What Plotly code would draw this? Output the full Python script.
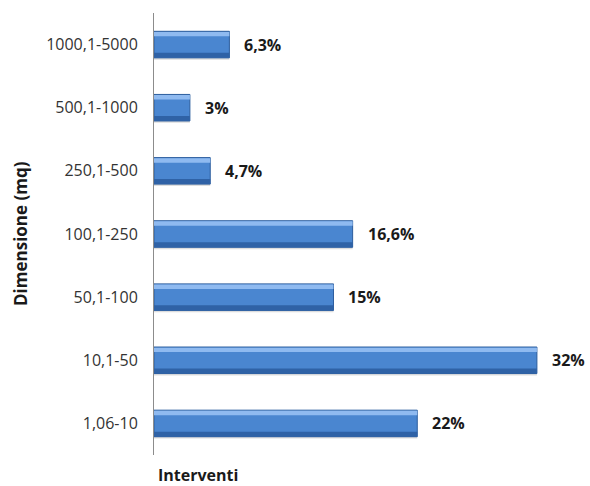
import plotly.graph_objects as go

# Dimension classes (bottom to top) and share of interventions (%)
categories = ["1,06-10", "10,1-50", "50,1-100", "100,1-250", "250,1-500", "500,1-1000", "1000,1-5000"]
values = [22, 32, 15, 16.6, 4.7, 3, 6.3]
labels = [f"{v:g}".replace(".", ",") + "%" for v in values]

fig = go.Figure()

# drop shadow under each bar
fig.add_trace(go.Bar(
    y=categories, x=values, orientation="h",
    width=0.42, offset=-0.24,
    marker=dict(color="rgba(120,120,120,0.25)", line=dict(width=0)),
    hoverinfo="skip", showlegend=False,
))
# main bar body
fig.add_trace(go.Bar(
    y=categories, x=values, orientation="h",
    width=0.42, offset=-0.21,
    marker=dict(color="#4a86d0", line=dict(color="#2d5e9e", width=1)),
    showlegend=False,
))
# lower darker bevel
fig.add_trace(go.Bar(
    y=categories, x=values, orientation="h",
    width=0.08, offset=-0.21,
    marker=dict(color="#2f62a6", line=dict(width=0)),
    hoverinfo="skip", showlegend=False,
))
# upper highlight bevel
fig.add_trace(go.Bar(
    y=categories, x=values, orientation="h",
    width=0.07, offset=0.13,
    marker=dict(color="#8fbaf0", line=dict(width=0)),
    hoverinfo="skip", showlegend=False,
))

# value labels to the right of each bar
for c, v, t in zip(categories, values, labels):
    fig.add_annotation(
        x=v, y=c, text=f"<b>{t}</b>", showarrow=False,
        xanchor="left", yanchor="middle", xshift=13,
        font=dict(family="Open Sans", size=16, color="#1a1a1a"),
    )

# axis titles
fig.add_annotation(
    xref="paper", yref="paper", x=0, y=0.5, xshift=-134,
    text="<b>Dimensione (mq)</b>", textangle=-90, showarrow=False,
    xanchor="center", yanchor="middle",
    font=dict(family="Open Sans", size=17, color="#1a1a1a"),
)
fig.add_annotation(
    xref="paper", yref="paper", x=0, y=0, xshift=3, yshift=-20,
    text="<b>Interventi</b>", showarrow=False, borderpad=0,
    xanchor="left", yanchor="middle",
    font=dict(family="Open Sans", size=16, color="#1a1a1a"),
)

fig.update_layout(
    width=590, height=486,
    margin=dict(l=154, r=10, t=13, b=31),
    paper_bgcolor="white", plot_bgcolor="white",
    barmode="overlay",
    xaxis=dict(range=[0, 35.6], showgrid=False, zeroline=False,
               showticklabels=False, showline=False, ticks=""),
    yaxis=dict(categoryorder="array", categoryarray=categories,
               showgrid=False, zeroline=False,
               showline=True, linecolor="#8c8c8c", linewidth=1,
               ticks="", ticklabelstandoff=12,
               tickfont=dict(family="Open Sans", size=16, color="#333333")),
)

fig.write_html("out.html")
